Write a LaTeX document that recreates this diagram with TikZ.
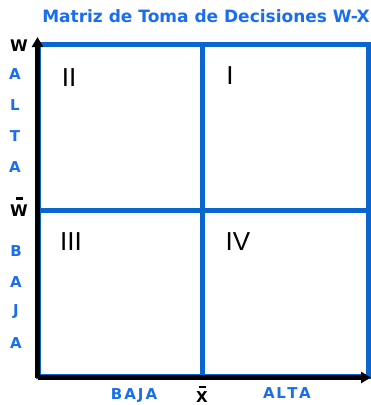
\documentclass[tikz,border=0pt]{standalone}
\usepackage{fontspec}
\setmainfont{DejaVu Sans}
\newfontfamily\romanfont{Liberation Sans}
\usetikzlibrary{arrows.meta}
\definecolor{matblue}{HTML}{0A66CC}
\definecolor{txtblue}{HTML}{1A6EEE}

\begin{document}
\begin{tikzpicture}[
  x=1pt, y=-1pt,
  frame/.style={draw=matblue, line width=5pt},
  axis/.style={draw=black, line width=5pt, -{Triangle[length=10pt, width=11pt]}},
  title/.style={text=txtblue, font=\bfseries\fontsize{17}{19}\selectfont},
  letter/.style={text=txtblue, font=\bfseries\fontsize{15}{17}\selectfont, inner sep=0pt},
  axislabel/.style={text=black, font=\bfseries\fontsize{16}{18}\selectfont, inner sep=0pt},
  meanbar/.style={line width=2.5pt},
  quadrant/.style={text=black, font=\romanfont\fontsize{26}{28}\selectfont, inner sep=0pt}
]
\useasboundingbox (0,0) rectangle (371,405);

% frame and quadrants
\coordinate (nw) at (38,44);
\coordinate (se) at (368,376);
\coordinate (midtop) at (202.5,44);
\coordinate (midbot) at (202.5,377);
\coordinate (midleft) at (38,210);
\coordinate (midright) at (368,210);
\draw[frame] (nw) rectangle (se);
\draw[frame] (midtop) -- (midbot);
\draw[frame] (midleft) -- (midright);

% axes
\coordinate (origin) at (37.5,377.5);
\coordinate (ytip) at (37.5,37);
\coordinate (xtip) at (371,377.5);
\draw[axis] (origin) -- (ytip);
\draw[axis] (origin) -- (xtip);

\node[title] (tit) at (206,16) {Matriz de Toma de Decisiones W-X};

\node[axislabel] (wtop) at (19,46) {W};
\node[axislabel] (wbar) at (19,211) {W};
\node[axislabel, font=\bfseries\fontsize{15}{17}\selectfont] (xbar) at (202,397) {X};
% bars over the mean values
\draw[meanbar] ([yshift=6.5pt]wbar.north) ++(-3.5pt,0) -- ++(7pt,0);
\draw[meanbar] ([yshift=4.5pt]xbar.north) ++(-3.5pt,0) -- ++(7pt,0);

\foreach \ch/\y [count=\i] in {A/74,L/105,T/136,A/167}
  \node[letter] (alta\i) at (15,\y) {\ch};
\foreach \ch/\y [count=\i] in {B/251,A/282,J/312,A/343}
  \node[letter] (baja\i) at (16,\y) {\ch};
\node[letter] (bajax) at (134,396) {B\hspace{2pt}A\hspace{2pt}J\hspace{2pt}A};
\node[letter] (altax) at (287,393) {A\hspace{1.5pt}L\hspace{1.5pt}T\hspace{1.5pt}A};

\node[quadrant] (q2) at (69,78) {II};
\node[quadrant] (q1) at (230,76) {I};
\node[quadrant] (q3) at (71,242) {III};
\node[quadrant] (q4) at (238,242) {IV};
\end{tikzpicture}
\end{document}
